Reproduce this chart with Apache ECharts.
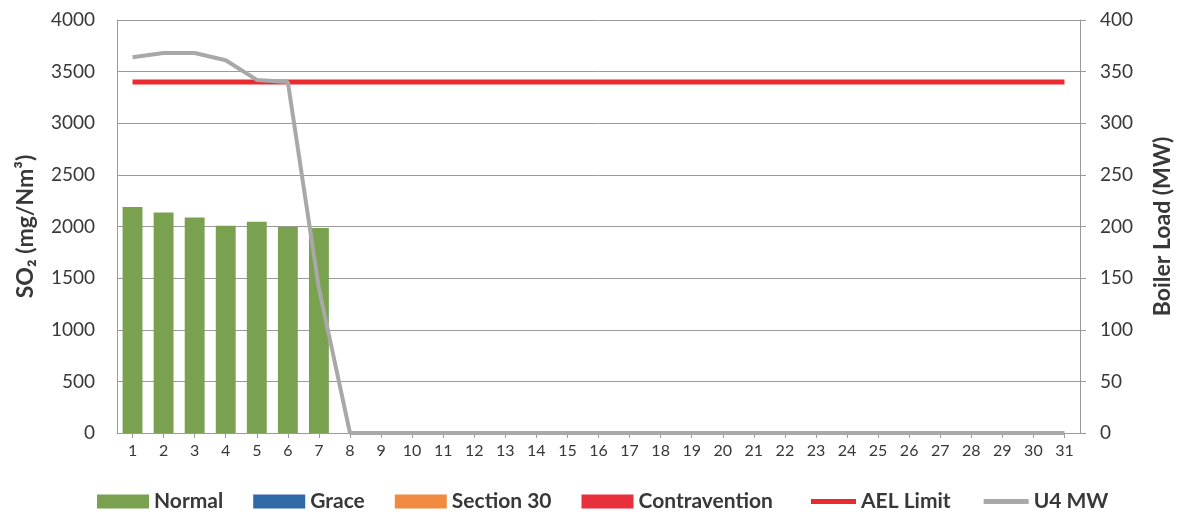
<!DOCTYPE html>
<html>
<head>
<meta charset="utf-8">
<script src="https://cdn.jsdelivr.net/npm/echarts@6/dist/echarts.min.js"></script>
<style>
  html, body { margin: 0; padding: 0; background: #ffffff; }
  #chart { width: 1182px; height: 513px; }
</style>
</head>
<body>
<div id="chart"></div>
<script>
// Days of the month
const days = Array.from({ length: 31 }, (_, i) => String(i + 1));

// Daily SO2 emissions by compliance status (mg/Nm3)
const normal = [2190, 2135, 2088, 2008, 2045, 1998, 1985];
const grace = [];
const section30 = [];
const contravention = [];

// Atmospheric emission licence limit (mg/Nm3)
const aelLimit = [3400, 3400, 3400, 3400, 3400, 3400, 3400, 3400, 3400, 3400,
  3400, 3400, 3400, 3400, 3400, 3400, 3400, 3400, 3400, 3400,
  3400, 3400, 3400, 3400, 3400, 3400, 3400, 3400, 3400, 3400, 3400];

// Unit 4 boiler load (MW)
const u4MW = [364, 368, 368, 361, 342, 340, 140, 0, 0, 0,
  0, 0, 0, 0, 0, 0, 0, 0, 0, 0,
  0, 0, 0, 0, 0, 0, 0, 0, 0, 0, 0];

const FONT = 'Lato, "Open Sans", sans-serif';
const TEXT = '#383838';
const GRID = '#9a9a9a';
const legendText = { fontFamily: FONT, fontSize: 21, fontWeight: 'bold', color: TEXT };

const chart = echarts.init(document.getElementById('chart'));

chart.setOption({
  animation: false,
  backgroundColor: '#ffffff',
  textStyle: { fontFamily: FONT },
  grid: { left: 117, right: 99, top: 20, bottom: 80, containLabel: false },
  legend: [
    {
      // status bars
      top: 486,
      left: 92,
      itemWidth: 52,
      itemHeight: 14,
      itemGap: 30,
      icon: 'rect',
      textStyle: legendText,
      data: ['Normal', 'Grace', 'Section 30', 'Contravention']
    },
    {
      // reference lines
      top: 486,
      left: 806,
      itemWidth: 45,
      itemHeight: 5,
      itemGap: 33,
      icon: 'rect',
      textStyle: legendText,
      data: ['AEL Limit', 'U4 MW']
    }
  ],
  xAxis: {
    type: 'category',
    data: days,
    boundaryGap: true,
    axisLine: { show: true, lineStyle: { color: GRID, width: 1 } },
    axisTick: { show: true, alignWithLabel: true, length: 5, lineStyle: { color: GRID } },
    axisLabel: { color: TEXT, fontSize: 16, margin: 10, interval: 0, fontFamily: FONT },
    splitLine: { show: false }
  },
  yAxis: [
    {
      type: 'value',
      min: 0,
      max: 4000,
      interval: 500,
      name: 'SO\u2082 (mg/Nm\u00b3)',
      nameLocation: 'middle',
      nameGap: 80,
      nameTextStyle: { fontFamily: FONT, fontSize: 23, fontWeight: 'bold', color: TEXT },
      axisLine: { show: true, lineStyle: { color: GRID, width: 1 } },
      axisTick: { show: false },
      axisLabel: { color: TEXT, fontSize: 19, margin: 22, fontFamily: FONT, formatter: v => String(v) },
      splitLine: { show: true, lineStyle: { color: GRID, width: 1 } }
    },
    {
      type: 'value',
      min: 0,
      max: 400,
      interval: 50,
      name: 'Boiler Load (MW)',
      nameLocation: 'middle',
      nameGap: 71,
      nameRotate: 90,
      nameTextStyle: { fontFamily: FONT, fontSize: 23, fontWeight: 'bold', color: TEXT },
      axisLine: { show: true, lineStyle: { color: GRID, width: 1 } },
      axisTick: { show: true, length: 6, lineStyle: { color: GRID } },
      axisLabel: { color: TEXT, fontSize: 19, margin: 20, fontFamily: FONT, formatter: v => String(v) },
      splitLine: { show: false }
    }
  ],
  series: [
    {
      name: 'Normal', type: 'bar', stack: 'status', barWidth: '64%',
      itemStyle: { color: '#79a150' }, data: normal
    },
    {
      name: 'Grace', type: 'bar', stack: 'status', barWidth: '64%',
      itemStyle: { color: '#2f69a8' }, data: grace
    },
    {
      name: 'Section 30', type: 'bar', stack: 'status', barWidth: '64%',
      itemStyle: { color: '#f08a40' }, data: section30
    },
    {
      name: 'Contravention', type: 'bar', stack: 'status', barWidth: '64%',
      itemStyle: { color: '#e8303c' }, data: contravention
    },
    {
      name: 'AEL Limit', type: 'line', symbol: 'none', z: 3,
      lineStyle: { color: '#ea2a30', width: 5 },
      itemStyle: { color: '#ea2a30' },
      data: aelLimit
    },
    {
      name: 'U4 MW', type: 'line', yAxisIndex: 1, symbol: 'none', z: 4,
      lineStyle: { color: '#a8a8a8', width: 4 },
      itemStyle: { color: '#a8a8a8' },
      data: u4MW
    }
  ]
});
</script>
</body>
</html>
